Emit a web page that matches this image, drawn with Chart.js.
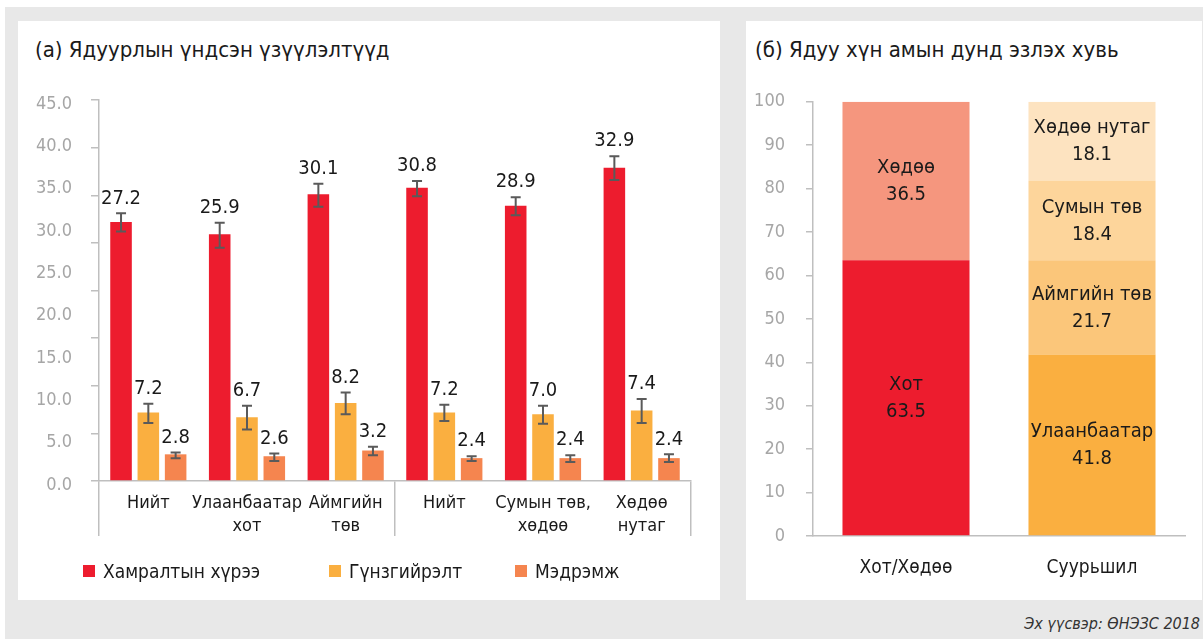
<!DOCTYPE html>
<html>
<head>
<meta charset="utf-8">
<script src="https://cdn.jsdelivr.net/npm/chart.js@4.4.1/dist/chart.umd.min.js"></script>
<style>
  body { margin: 0; width: 1203px; height: 639px; position: relative; overflow: hidden; background: #fff;
         font-family: 'Liberation Sans Narrow', 'DejaVu Sans Condensed', Roboto, sans-serif; }
  #bg { position: absolute; left: 5px; top: 7px; width: 1198px; height: 632px; background: #e8e8e8; }
  .panel { position: absolute; top: 21px; height: 579px; background: #fff; }
  #panelA { left: 18px; width: 702px; }
  #panelB { left: 746px; width: 456px; }
  .title { position: absolute; top: 16px; font-size: 22px; line-height: 26px; color: #1a1a1a; white-space: nowrap; }
  canvas { position: absolute; top: 49px; left: 0; }
  #legendA { position: absolute; left: 65px; top: 540px; height: 20px; display: flex; align-items: center; }
  #legendA .item { display: flex; align-items: center; font-size: 19px; color: #1a1a1a; white-space: nowrap; }
  #legendA .item:nth-child(1) { width: 246px; }
  #legendA .item:nth-child(2) { width: 186px; }
  #legendA .box { width: 12px; height: 12px; margin-right: 8px; }
  #source { position: absolute; right: 3px; top: 614px; font-size: 16px; font-style: italic; color: #333; }
</style>
</head>
<body>
<div id="bg"></div>
<div class="panel" id="panelA">
  <div class="title" style="left:17px">(а) Ядуурлын үндсэн үзүүлэлтүүд</div>
  <canvas id="chartA" width="702" height="530"></canvas>
  <div id="legendA"></div>
</div>
<div class="panel" id="panelB">
  <div class="title" style="left:9px">(б) Ядуу хүн амын дунд эзлэх хувь</div>
  <canvas id="chartB" width="456" height="530"></canvas>
</div>
<div id="source">Эх үүсвэр: ӨНЭЗС 2018</div>

<script>
const FONT = "'Liberation Sans Narrow', 'DejaVu Sans Condensed', Roboto, sans-serif";
Chart.defaults.font.family = FONT;
Chart.defaults.color = "#1a1a1a";

// (a) poverty indicators
const categories = ["Нийт", ["Улаанбаатар", "хот"], ["Аймгийн", "төв"], "Нийт", ["Сумын төв,", "хөдөө"], ["Хөдөө", "нутаг"]];
const seriesNames = ["Хамралтын хүрээ", "Гүнзгийрэлт", "Мэдрэмж"];
const coverage = [27.2, 25.9, 30.1, 30.8, 28.9, 32.9];
const depth = [7.2, 6.7, 8.2, 7.2, 7.0, 7.4];
const severity = [2.8, 2.6, 3.2, 2.4, 2.4, 2.4];
// confidence intervals
const coverageLow = [26.2, 24.5, 28.8, 29.9, 27.9, 31.6];
const coverageHigh = [28.1, 27.1, 31.2, 31.5, 29.8, 34.1];
const depthLow = [6.1, 5.4, 7.0, 6.3, 6.0, 6.1];
const depthHigh = [8.1, 7.9, 9.3, 8.0, 7.9, 8.6];
const severityLow = [2.4, 2.1, 2.7, 2.1, 2.0, 2.0];
const severityHigh = [3.0, 2.9, 3.6, 2.6, 2.7, 2.8];
// printed axis labels of the original (0.0 ... 45.0)
const labelAxisMax = 45;

// (b) share of the poor
const shareCategories = ["Хот/Хөдөө", "Суурьшил"];
const urbanRural = ["Хот", "Хөдөө"];
const urbanRuralValues = [63.5, 36.5];
const settlements = ["Улаанбаатар", "Аймгийн төв", "Сумын төв", "Хөдөө нутаг"];
const settlementValues = [41.8, 21.7, 18.4, 18.1];

const RED = "#ED1C2E", YELLOW = "#FAAF40", ORANGE = "#F5854F";
const AXIS = "#bfbfbf", TICKTEXT = "#a6a6a6";

const errorBars = {
  id: "errorBars",
  afterDatasetsDraw(chart) {
    const lows = [coverageLow, depthLow, severityLow];
    const highs = [coverageHigh, depthHigh, severityHigh];
    const y = chart.scales.y;
    const ctx = chart.ctx;
    ctx.save();
    chart.data.datasets.forEach((ds, i) => {
      chart.getDatasetMeta(i).data.forEach((bar, j) => {
        const top = y.getPixelForValue(highs[i][j]);
        const bot = y.getPixelForValue(lows[i][j]);
        ctx.strokeStyle = "#5a5a5a";
        ctx.lineWidth = 2;
        ctx.beginPath();
        ctx.moveTo(bar.x, top); ctx.lineTo(bar.x, bot);
        ctx.moveTo(bar.x - 5, top); ctx.lineTo(bar.x + 5, top);
        ctx.moveTo(bar.x - 5, bot); ctx.lineTo(bar.x + 5, bot);
        ctx.stroke();
        ctx.fillStyle = "#1a1a1a";
        ctx.font = "20px " + FONT;
        ctx.textAlign = "center";
        ctx.textBaseline = "middle";
        ctx.fillText(ds.data[j].toFixed(1), bar.x, top - 15);
      });
    });
    ctx.restore();
  }
};

// html legend built from the chart's own legend items
const htmlLegend = {
  id: "htmlLegend",
  afterUpdate(chart) {
    const box = document.getElementById("legendA");
    box.innerHTML = "";
    const items = chart.options.plugins.legend.labels.generateLabels(chart);
    items.forEach((it) => {
      const row = document.createElement("div");
      row.className = "item";
      const sw = document.createElement("span");
      sw.className = "box";
      sw.style.background = it.fillStyle;
      row.appendChild(sw);
      row.appendChild(document.createTextNode(it.text));
      box.appendChild(row);
    });
  }
};

new Chart(document.getElementById("chartA"), {
  type: "bar",
  data: {
    labels: categories,
    datasets: [
      { label: seriesNames[0], data: coverage, backgroundColor: RED },
      { label: seriesNames[1], data: depth, backgroundColor: YELLOW },
      { label: seriesNames[2], data: severity, backgroundColor: ORANGE },
    ],
  },
  options: {
    responsive: false,
    animation: false,
    categoryPercentage: 0.83,
    barPercentage: 0.79,
    layout: { padding: { top: 30, right: 29, bottom: 62, left: 0 } },
    scales: {
      x: {
        border: { color: AXIS, width: 1.5 },
        grid: {
          drawOnChartArea: false,
          tickLength: 55,
          lineWidth: 1.5,
          tickColor: (c) => (c.index === undefined || c.index === 0 || c.index === 3) ? AXIS : "rgba(0,0,0,0)",
        },
        ticks: { font: { size: 18, lineHeight: 1.28 }, color: "#1a1a1a", padding: -44, maxRotation: 0, autoSkip: false },
        afterFit: (s) => { s.height = 57; },
      },
      y: {
        min: 0, max: 40,
        weight: 0,
        border: { color: AXIS, width: 1.5 },
        grid: { drawOnChartArea: false, tickLength: 8, color: AXIS, lineWidth: 1.5 },
        ticks: { stepSize: 5, display: false },
        afterFit: (s) => { s.width = 8; },
      },
      yLabels: {
        position: "left",
        weight: 1,
        min: 0, max: labelAxisMax,
        border: { display: false },
        grid: { display: false, drawTicks: false },
        ticks: { stepSize: 5, color: TICKTEXT, font: { size: 18 }, padding: 19, labelOffset: 4,
                 callback: (v) => v.toFixed(1) },
        afterFit: (s) => { s.width = 73; },
      },
    },
    plugins: {
      legend: { display: false },
      tooltip: { enabled: false },
    },
  },
  plugins: [errorBars, htmlLegend],
});

const segmentLabels = {
  id: "segmentLabels",
  afterDatasetsDraw(chart) {
    const ctx = chart.ctx;
    ctx.save();
    ctx.fillStyle = "#1a1a1a";
    ctx.font = "20px " + FONT;
    ctx.textAlign = "center";
    ctx.textBaseline = "middle";
    chart.data.datasets.forEach((ds, i) => {
      chart.getDatasetMeta(i).data.forEach((bar, j) => {
        if (ds.data[j] == null) return;
        const cy = (bar.y + bar.base) / 2;
        ctx.fillText(ds.label, bar.x, cy - 13);
        ctx.fillText(ds.data[j].toFixed(1), bar.x, cy + 14);
      });
    });
    ctx.restore();
  }
};

const shareColors = ["#ED1C2E", "#F5967E", "#FAAF40", "#FBC67A", "#FDD59B", "#FDE3C0"];
const shareDatasets = [];
urbanRural.forEach((name, i) => shareDatasets.push({ label: name, data: [urbanRuralValues[i], null] }));
settlements.forEach((name, i) => shareDatasets.push({ label: name, data: [null, settlementValues[i]] }));
shareDatasets.forEach((d, i) => { d.backgroundColor = shareColors[i]; });

new Chart(document.getElementById("chartB"), {
  type: "bar",
  data: { labels: shareCategories, datasets: shareDatasets },
  options: {
    responsive: false,
    animation: false,
    categoryPercentage: 1,
    barPercentage: 0.683,
    layout: { padding: { top: 30, right: 17, bottom: 20, left: 0 } },
    scales: {
      x: {
        stacked: true,
        border: { color: AXIS, width: 1.5 },
        grid: { display: false, drawTicks: false },
        ticks: { font: { size: 19 }, color: "#1a1a1a", padding: 21 },
        afterFit: (s) => { s.height = 44; },
      },
      y: {
        stacked: true,
        min: 0, max: 100,
        border: { color: AXIS, width: 1.5 },
        grid: { drawOnChartArea: false, tickLength: 7, color: AXIS, lineWidth: 1.5 },
        ticks: { stepSize: 10, color: TICKTEXT, font: { size: 18 }, padding: 21 },
        afterFit: (s) => { s.width = 67; },
      },
    },
    plugins: { legend: { display: false }, tooltip: { enabled: false } },
  },
  plugins: [segmentLabels],
});
</script>
</body>
</html>
